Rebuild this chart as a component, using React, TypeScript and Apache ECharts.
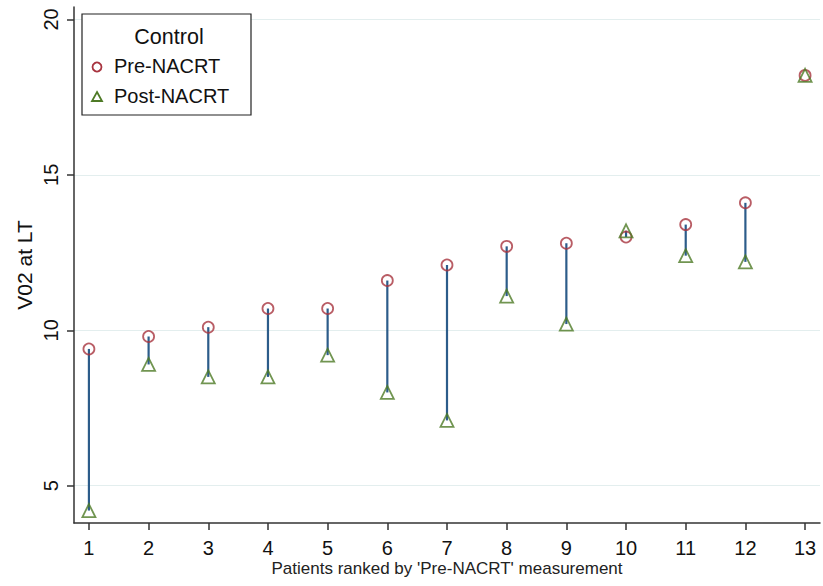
import React, { useEffect, useRef } from "react";
import * as echarts from "echarts";

const patients = [1, 2, 3, 4, 5, 6, 7, 8, 9, 10, 11, 12, 13];
const preNACRT = [9.4, 9.8, 10.1, 10.7, 10.7, 11.6, 12.1, 12.7, 12.8, 13.0, 13.4, 14.1, 18.2];
const postNACRT = [4.2, 8.9, 8.5, 8.5, 9.2, 8.0, 7.1, 11.1, 10.2, 13.2, 12.4, 12.2, 18.2];
const yTicks = [5, 10, 15, 20];

const PRE_COLOR = "#a8343f";
const POST_COLOR = "#4e7a26";
const LINE_COLOR = "#2c5c8a";
const FONT = "Liberation Sans, Arial, sans-serif";

export default function App() {
  const ref = useRef<HTMLDivElement>(null);
  useEffect(() => {
    const chart = echarts.init(ref.current!, null, { renderer: "svg" });
    const segData = patients.map((p, i) => [p, preNACRT[i], postNACRT[i]]);
    const option: any = {
      animation: false,
      backgroundColor: "#ffffff",
      grid: { left: 74, right: 3, top: 7, bottom: 63 },
      xAxis: {
        type: "value",
        min: 0.75,
        max: 13.25,
        name: "Patients ranked by 'Pre-NACRT' measurement",
        nameLocation: "middle",
        nameGap: 37,
        nameMoveOverlap: false,
        nameTextStyle: { fontSize: 17, color: "#222", fontFamily: FONT },
        axisLine: { show: true, onZero: false, lineStyle: { color: "#333", width: 1.5 } },
        axisTick: { show: true, length: 7, customValues: patients, lineStyle: { color: "#333", width: 1.5 } },
        axisLabel: { customValues: patients, fontSize: 20, color: "#111", margin: 15, fontFamily: FONT },
        splitLine: { show: false },
      },
      yAxis: {
        type: "value",
        min: 3.8,
        max: 20.4,
        name: "V02 at LT",
        nameLocation: "middle",
        nameGap: 39,
        nameRotate: 90,
        nameMoveOverlap: false,
        nameTextStyle: { fontSize: 21, color: "#111", fontFamily: FONT },
        axisLine: { show: true, onZero: false, lineStyle: { color: "#333", width: 1.5 } },
        axisTick: { show: true, length: 7, customValues: yTicks, lineStyle: { color: "#333", width: 1.5 } },
        axisLabel: { customValues: yTicks, rotate: 90, fontSize: 20, color: "#111", margin: 13, fontFamily: FONT },
        splitLine: { show: false },
      },
      series: [
        {
          type: "custom",
          silent: true,
          data: segData,
          z: 1,
          renderItem: (params: any, api: any) => {
            const p1 = api.coord([api.value(0), api.value(1)]);
            const p2 = api.coord([api.value(0), api.value(2)]);
            return {
              type: "line",
              shape: { x1: p1[0], y1: p1[1], x2: p2[0], y2: p2[1] },
              style: { stroke: LINE_COLOR, lineWidth: 2.2 },
            };
          },
          markLine: {
            silent: true,
            symbol: "none",
            label: { show: false },
            lineStyle: { color: "#e3eeee", width: 1.2, type: "solid" },
            data: yTicks.map((t) => ({ yAxis: t })),
            z: 0,
          },
        },
        {
          name: "Pre-NACRT",
          type: "scatter",
          data: patients.map((p, i) => [p, preNACRT[i]]),
          symbol: "circle",
          symbolSize: 11,
          itemStyle: { color: "rgba(255,255,255,0)", borderColor: PRE_COLOR, borderWidth: 1.8 },
          z: 3,
        },
        {
          name: "Post-NACRT",
          type: "scatter",
          data: patients.map((p, i) => [p, postNACRT[i]]),
          symbol: "triangle",
          symbolSize: 13,
          itemStyle: { color: "rgba(255,255,255,0)", borderColor: POST_COLOR, borderWidth: 1.8 },
          z: 4,
        },
      ],
      graphic: [
        {
          type: "rect",
          shape: { x: 82, y: 14, width: 169, height: 101 },
          style: { fill: "#fff", stroke: "#222", lineWidth: 1.2 },
          z: 10,
        },
        {
          type: "text",
          x: 169,
          y: 37,
          style: { text: "Control", fontSize: 21.5, fill: "#111", fontFamily: FONT, textAlign: "center", textVerticalAlign: "middle" },
          z: 11,
        },
        {
          type: "circle",
          shape: { cx: 97, cy: 67, r: 4.5 },
          style: { fill: "none", stroke: PRE_COLOR, lineWidth: 1.8 },
          z: 11,
        },
        {
          type: "text",
          x: 114,
          y: 66,
          style: { text: "Pre-NACRT", fontSize: 20, fill: "#111", fontFamily: FONT, textAlign: "left", textVerticalAlign: "middle" },
          z: 11,
        },
        {
          type: "polygon",
          shape: { points: [[97, 92], [102, 101], [92, 101]] },
          style: { fill: "none", stroke: POST_COLOR, lineWidth: 1.8 },
          z: 11,
        },
        {
          type: "text",
          x: 114,
          y: 96,
          style: { text: "Post-NACRT", fontSize: 20, fill: "#111", fontFamily: FONT, textAlign: "left", textVerticalAlign: "middle" },
          z: 11,
        },
      ],
    };
    chart.setOption(option);
    return () => chart.dispose();
  }, []);
  return (
    <div
      ref={ref}
      style={{ position: "absolute", left: 0, top: 0, width: 823, height: 586, background: "#fff" }}
    />
  );
}
